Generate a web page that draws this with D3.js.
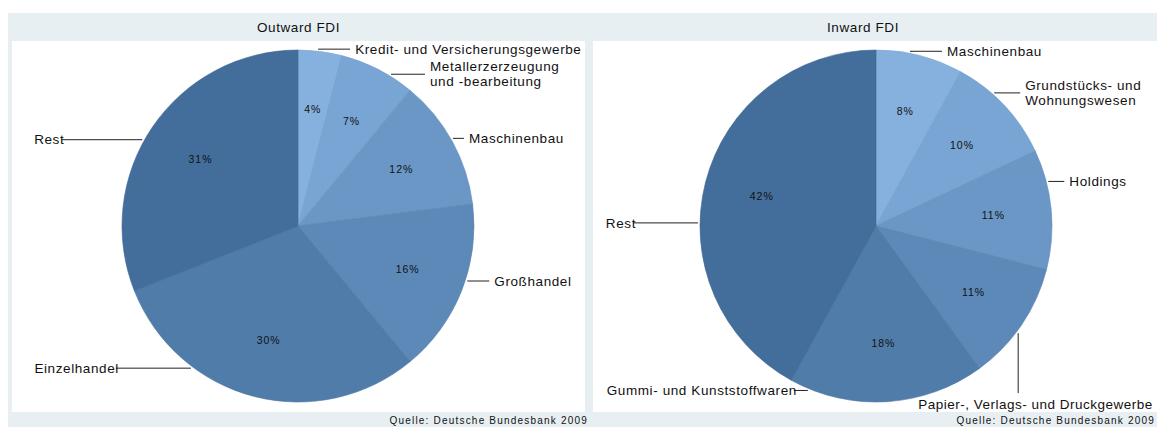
<!DOCTYPE html>
<html>
<head>
<meta charset="utf-8">
<script src="https://cdn.jsdelivr.net/npm/d3@7"></script>
<style>
  body { margin: 0; background: #fff; }
  svg text { font-family: "Liberation Sans", Arial, sans-serif; fill: #111; }
</style>
</head>
<body>
<svg id="chart" width="1157" height="427"></svg>
<script>
// ---- data ----
const outwardSectors = ["Kredit- und Versicherungsgewerbe", "Metallerzerzeugung\nund -bearbeitung", "Maschinenbau", "Großhandel", "Einzelhandel", "Rest"]
const outwardShares = [4, 7, 12, 16, 30, 31]

const inwardSectors = ["Maschinenbau", "Grundstücks- und\nWohnungswesen", "Holdings", "Papier-, Verlags- und Druckgewerbe", "Gummi- und Kunststoffwaren", "Rest"]
const inwardShares = [8, 10, 11, 11, 18, 42]

const titles = ["Outward FDI", "Inward FDI"]
const source = "Quelle: Deutsche Bundesbank 2009"

const sliceColors = ["#86b1df", "#78a5d3", "#6a97c6", "#5d89b8", "#507ca9", "#436e9b"]

// leader line layout: anchor angle on the rim (deg, clockwise from 12 o'clock),
// line length and direction
const outwardLeaders = [
    { angle: 6.5, len: 32, dir: "right" },
    { angle: 31.5, len: 34, dir: "right" },
    { angle: 60.5, len: 11, dir: "right" },
    { angle: 108, len: 22, dir: "right" },
    { angle: 217, len: 75, dir: "left" },
    { angle: 299, len: 81, dir: "left" },
]
const inwardLeaders = [
    { angle: 11, len: 32, dir: "right" },
    { angle: 41.6, len: 26, dir: "right" },
    { angle: 75.5, len: 16, dir: "right" },
    { angle: 127, len: 60, dir: "down" },
    { angle: 202.5, len: 14, dir: "left" },
    { angle: 271, len: 65, dir: "left" },
]

const svg = d3.select("#chart")

const panels = [
    { x: 8, w: 582, innerX: 12, innerW: 573, cx: 298, sectors: outwardSectors, shares: outwardShares, leaders: outwardLeaders, title: titles[0] },
    { x: 590, w: 567, innerX: 593, innerW: 564, cx: 876, sectors: inwardSectors, shares: inwardShares, leaders: inwardLeaders, title: titles[1] },
]

const cy = 226
const radius = 176

const pie = d3.pie().sort(null).value(d => d.value)
const arc = d3.arc().innerRadius(0).outerRadius(radius)
const labelArc = d3.arc().innerRadius(radius * 0.67).outerRadius(radius * 0.67)

const color = d3.scaleOrdinal().domain(d3.range(6)).range(sliceColors)

panels.forEach((p, pi) => {
    const g = svg.append("g")

    // panel background
    g.append("rect")
        .attr("x", p.x).attr("y", 13)
        .attr("width", p.w).attr("height", 414)
        .attr("fill", "#e7eff3")
    g.append("rect")
        .attr("x", p.innerX).attr("y", 41)
        .attr("width", p.innerW).attr("height", 371)
        .attr("fill", "#fff")

    g.append("text")
        .attr("x", p.innerX + p.innerW / 2 + (pi == 0 ? 0 : -12))
        .attr("y", 32)
        .attr("text-anchor", "middle")
        .attr("font-size", 13.5)
        .attr("letter-spacing", 0.6)
        .text(p.title)

    const data = p.sectors.map((s, i) => ({ name: s, value: p.shares[i], idx: i }))
    const arcs = pie(data)

    const gp = g.append("g").attr("transform", `translate(${p.cx},${cy})`)

    gp.selectAll(".slice")
        .data(arcs)
        .enter()
        .append("path")
        .attr("class", "slice")
        .attr("d", arc)
        .attr("fill", d => color(d.data.idx))
        .attr("stroke", d => d3.color(color(d.data.idx)).darker(0.15))
        .attr("stroke-width", 0.6)

    gp.selectAll(".pct")
        .data(arcs)
        .enter()
        .append("text")
        .attr("class", "pct")
        .attr("transform", d => `translate(${labelArc.centroid(d)})`)
        .attr("text-anchor", "middle")
        .attr("dy", "0.35em")
        .attr("font-size", 10.5)
        .attr("letter-spacing", 1)
        .text(d => d.data.value + "%")

    // leader lines and sector labels
    arcs.forEach((d, i) => {
        const l = p.leaders[i]
        const a = l.angle * Math.PI / 180
        const x0 = (radius + 2) * Math.sin(a)
        const y0 = -(radius + 2) * Math.cos(a)
        let x1 = x0, y1 = y0
        if (l.dir == "right") x1 = x0 + l.len
        if (l.dir == "left") x1 = x0 - l.len
        if (l.dir == "down") y1 = y0 + l.len

        gp.append("line")
            .attr("x1", x0).attr("y1", y0)
            .attr("x2", x1).attr("y2", y1)
            .attr("stroke", "#222")
            .attr("stroke-width", 1)

        const lines = d.data.name.split("\n")
        const t = gp.append("text")
            .attr("font-size", 13.5)
            .attr("letter-spacing", 0.6)
        if (l.dir == "right") {
            t.attr("x", x1 + 5).attr("y", y1 - (lines.length - 1) * 7.5)
        } else if (l.dir == "left") {
            t.attr("x", x1 + 3).attr("y", y1).attr("text-anchor", "end")
        } else {
            t.attr("x", x1 - 100).attr("y", y1 + 11).attr("letter-spacing", 0.5)
        }
        t.selectAll("tspan")
            .data(lines)
            .enter()
            .append("tspan")
            .attr("x", t.attr("x"))
            .attr("dy", (s, k) => k == 0 ? "0.35em" : "1.1em")
            .text(s => s)
    })

    g.append("text")
        .attr("x", p.x + p.w - 2)
        .attr("y", 424)
        .attr("text-anchor", "end")
        .attr("font-size", 10)
        .attr("letter-spacing", 1.2)
        .text(source)
})
</script>
</body>
</html>
